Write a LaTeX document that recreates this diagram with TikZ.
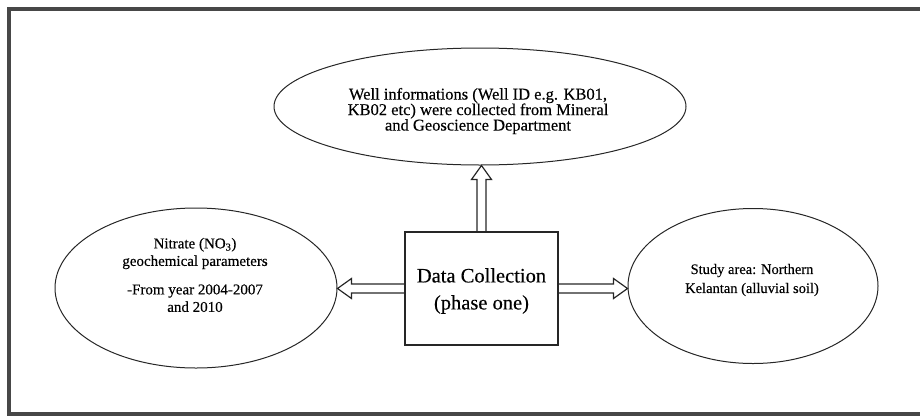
\documentclass[tikz,border=0pt]{standalone}
\usepackage{fontspec}
\setmainfont{Liberation Serif}[FakeBold=0.3]
\usetikzlibrary{shapes.geometric,calc}
\tikzset{
  oval/.style={draw=black!85, line width=1pt, ellipse, inner sep=0pt},
  boxnode/.style={draw=black!85, line width=1.3pt, rectangle, inner sep=0pt},
  txt/.style={align=center, inner sep=0pt},
  blockarrow/.style={draw=black!85, line width=1.2pt, line join=miter,
    to path={let \p1=($(\tikztotarget)-(\tikztostart)$), \n1={veclen(\x1,\y1)}, \n2={atan2(\y1,\x1)} in
      [shift={(\tikztostart)}, rotate=\n2]
      (0pt,-4.5pt) -- (\n1-14pt,-4.5pt) -- (\n1-14pt,-10pt) -- (\n1,0pt) -- (\n1-14pt,10pt) -- (\n1-14pt,4.5pt) -- (0pt,4.5pt)}},
  frame/.style={draw=black!72, line width=3.5pt}
}
\begin{document}
\begin{tikzpicture}[x=1pt,y=-1pt]
\useasboundingbox (0,0) rectangle (920,418);
\draw[frame] (922,9) -- (9,9) -- (9,414) -- (922,414);
% nodes
\node[oval, minimum width=412pt, minimum height=117pt] (well) at (480,106.5) {};
\node[txt, font=\fontsize{16.5}{15.5}\selectfont] (welltxt) at (478,111) {Well informations (Well ID e.g. KB01,\\KB02 etc) were collected from Mineral\\and Geoscience Department};
\node[boxnode, minimum width=153pt, minimum height=113pt] (dc) at (481.5,288.5) {};
\node[txt, font=\fontsize{20.5}{27}\selectfont] (dctxt) at (481.5,291) {Data Collection\\(phase one)};
\node[oval, minimum width=282pt, minimum height=160pt] (nit) at (196,288) {};
\node[txt, font=\fontsize{15}{17.5}\selectfont] (nittxt) at (195,275) {Nitrate (NO\textsubscript{3})\\geochemical parameters\\[11pt]-From year 2004-2007\\and 2010};
\node[oval, minimum width=250pt, minimum height=155pt] (study) at (753,286) {};
\node[txt, font=\fontsize{14.5}{19}\selectfont] (studytxt) at (752,280) {Study area: Northern\\Kelantan (alluvial soil)};
\coordinate (wt) at (dc.north |- well.south);
\coordinate (lt) at (nit.east |- dc.west);
\coordinate (rt) at (study.west |- dc.east);
% connectors
\draw[blockarrow] (dc.north) to (wt);
\draw[blockarrow] (dc.west) to (lt);
\draw[blockarrow] (dc.east) to (rt);
\end{tikzpicture}
\end{document}
